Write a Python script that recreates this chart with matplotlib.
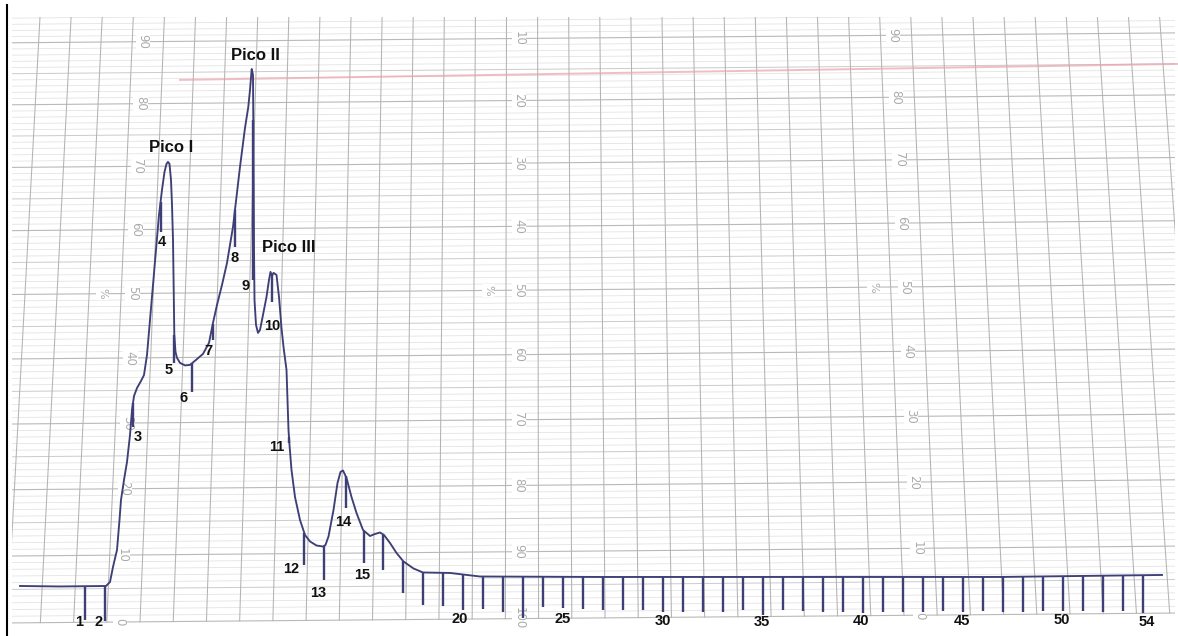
import numpy as np
import matplotlib
matplotlib.use('Agg')
import matplotlib.pyplot as plt
from matplotlib.patches import Rectangle
from matplotlib.lines import Line2D

# recorder trace: position along the chart (fraction tubes) and absorbance (% of scale)
trace_x = [-2.15, -0.15, 2.15, 2.35, 2.50, 2.70, 2.825, 2.90, 3.05, 3.20,
           3.35, 3.45, 3.55, 3.70, 3.90, 4.05, 4.20, 4.35, 4.50, 4.65,
           4.80, 4.95, 5.075, 5.175, 5.25, 5.325, 5.40, 5.45, 5.50, 5.535,
           5.565, 5.625, 5.70, 5.85, 6.10, 6.35, 6.65, 7.00, 7.30, 7.50,
           7.70, 7.95, 8.20, 8.50, 8.85, 9.10, 9.265, 9.35, 9.435, 9.50,
           9.525, 9.55, 9.575, 9.65, 9.75, 9.85, 10.00, 10.175, 10.30, 10.375,
           10.45, 10.525, 10.675, 10.80, 10.925, 11.025, 11.175, 11.225, 11.275, 11.325,
           11.425, 11.60, 11.85, 12.10, 12.35, 12.675, 13.00, 13.125, 13.275, 13.525,
           13.725, 13.875, 14.00, 14.175, 14.425, 14.675, 15.00, 15.35, 15.60, 15.85,
           16.05, 16.35, 16.675, 17.025, 17.525, 18.00, 19.35, 20.85, 26.85, 36.85,
           46.85, 54.95]
trace_y = [5.37, 5.30, 5.37, 5.97, 8.22, 10.77, 15.28, 18.31, 21.34, 24.07,
           28.18, 32.01, 34.15, 35.38, 36.46, 37.38, 40.48, 45.90, 51.35, 56.83,
           62.34, 66.29, 69.14, 70.41, 70.73, 70.41, 67.87, 63.92, 58.40, 50.57,
           43.57, 40.94, 40.02, 39.25, 38.86, 38.94, 39.71, 40.64, 42.34, 45.44,
           48.23, 51.35, 54.79, 60.45, 69.94, 76.15, 79.51, 82.24, 85.62, 84.66,
           72.64, 56.83, 49.01, 45.13, 43.89, 44.35, 46.68, 49.48, 52.13, 53.38,
           52.76, 53.23, 52.91, 49.48, 44.66, 41.72, 38.17, 33.55, 28.95, 26.66,
           22.86, 18.76, 15.28, 13.02, 12.05, 11.44, 11.29, 11.52, 12.80, 16.79,
           20.88, 22.55, 22.78, 21.64, 18.76, 16.34, 13.78, 12.87, 13.17, 13.40,
           13.02, 11.82, 10.32, 9.04, 7.99, 7.39, 7.32, 6.79, 6.72, 6.72,
           6.72, 7.02]

# fraction collector marks: position and lowest point of each pen mark
frac_x = [1.10, 2.10, 3.50, 4.875, 5.565, 6.465, 7.485, 8.60, 9.515, 10.435,
          11.30, 12.065, 13.05, 14.135, 15.065, 16.015, 16.985,
          18, 19, 20, 21, 22, 23, 24, 25, 26, 27, 28, 29, 30, 31, 32, 33, 34, 35, 36,
          37, 38, 39, 40, 41, 42, 43, 44, 45, 46, 47, 48, 49, 50, 51, 52, 53, 54]
frac_low = [0.30, 0.15, 29.40, 59.66, 39.25, 34.76, 42.80, 57.30, 52.13, 48.70,
            26.96, 8.52, 6.27, 17.10, 8.82, 7.77, 4.32,
            2.53, 2.38, 1.79, 1.94, 1.49, 0.60, 2.23, 2.08, 1.94, 1.79, 1.79, 1.79,
            1.49, 1.49, 1.49, 1.49, 1.79, 1.04, 1.79,
            1.6, 1.5, 1.5, 1.3, 1.5, 1.5, 1.5, 1.7, 1.5, 1.7, 1.5, 1.5, 1.7, 1.7,
            1.7, 1.5, 1.7, 1.3]

# hand-written fraction numbers
num_text = ['1', '2', '3', '4', '5', '6', '7', '8', '9', '10', '11', '12', '13',
            '14', '15', '20', '25', '30', '35', '40', '45', '50', '54']
num_x = [0.80, 1.80, 3.75, 4.95, 5.30, 6.05, 7.25, 8.60, 9.15, 10.45, 10.70, 11.40,
         12.75, 14.00, 14.95, 19.85, 25.0, 30.0, 34.95, 39.9, 44.95, 49.95, 54.2]
num_y = [0.0, 0.0, 27.88, 58.09, 38.17, 33.84, 41.07, 55.57, 51.20, 44.97, 26.35,
         7.92, 4.32, 14.98, 7.02, 0.45, 0.45, 0.15, 0.0, 0.15, 0.15, 0.30, 0.0]

peak_text = ['Pico I', 'Pico II', 'Pico III']
peak_x = [5.4, 9.6, 11.27]
peak_y = [72.96, 87.72, 57.14]

# second pen (red) reference line
ref_x = [5.85, 55.75]
ref_y = [83.85, 86.43]

scale_steps = [0, 10, 20, 30, 40, 50, 60, 70, 80, 90]

INK = '#3d3f76'
SCALE_GREY = '#ababab'

# chart paper is photographed slightly in perspective
A, B = 6.72, 0.00307
TILT = 0.17
X_REF = 2.85
TOP_V = 94.05


def chart_fwd(v):
    v = np.asarray(v, dtype=float)
    return A * v - B * v ** 2


def chart_inv(h):
    h = np.asarray(h, dtype=float)
    return (A - np.sqrt(np.maximum(A * A - 4 * B * h, 1e-9))) / (2 * B)


def paper_level(v, x):
    return chart_inv(chart_fwd(v) + TILT * (np.asarray(x, dtype=float) - X_REF))


fig = plt.figure(figsize=(11.78, 6.36), dpi=100)
fig.patch.set_facecolor('white')
ax = fig.add_axes([0, 0, 1, 1])
ax.set_yscale('function', functions=(chart_fwd, chart_inv))
ax.set_xlim(-3.15, 55.75)
ax.set_ylim(-2.08, 96.81)
ax.axis('off')

clip = Rectangle((-2.55, -3), 58.15, TOP_V + 3, transform=ax.transData,
                 facecolor='none', edgecolor='none')
ax.add_patch(clip)

# horizontal rulings, one per percent
xs = np.linspace(-2.55, 55.6, 60)
for v in range(0, 95):
    if v % 10 == 0:
        col, lw = '#b9b9b9', 0.8
    elif v % 5 == 0:
        col, lw = '#cbcbcb', 0.7
    else:
        col, lw = '#e1e1e1', 0.55
    ln, = ax.plot(xs, paper_level(v, xs), color=col, lw=lw, zorder=1)
    ln.set_clip_path(clip)

# vertical rulings, leaning outwards towards the bottom
for k in range(37):
    xt = -1.15 + 1.555 * k
    xb = xt + 0.068 * (xt - 23.0)
    ln, = ax.plot([xb, xt], [paper_level(0, xb), TOP_V], color='#b3b3b3',
                  lw=0.75, zorder=1)
    ln.set_clip_path(clip)

# printed scales of the paper
lbl_box = dict(facecolor='white', edgecolor='none', pad=0.6)
for v in scale_steps:
    xl = 2.85 + 0.0128 * v
    ax.text(xl, paper_level(v, xl), str(v), rotation=-90, color=SCALE_GREY,
            fontsize=8.5, ha='center', va='center', bbox=lbl_box, zorder=2)
    xm = 22.8
    ax.text(xm, paper_level(v, xm), str(100 - v), rotation=-90, color=SCALE_GREY,
            fontsize=8.5, ha='center', va='center', bbox=lbl_box, zorder=2)
    xr = 42.85 - 0.015 * v
    ax.text(xr, paper_level(v, xr), str(v), rotation=-90, color=SCALE_GREY,
            fontsize=8.5, ha='center', va='center', bbox=lbl_box, zorder=2)
for xp in [1.95, 21.25, 40.5]:
    ax.text(xp, paper_level(50, xp), '%', rotation=-90, color=SCALE_GREY,
            fontsize=8, ha='center', va='center', bbox=lbl_box, zorder=2)

ax.plot(ref_x, ref_y, color='#eaa2ad', lw=1.4, alpha=0.7, zorder=2)

# absorbance trace and fraction marks
ax.plot(trace_x, trace_y, color=INK, lw=1.35, zorder=3, solid_joinstyle='round')
frac_top = np.interp(frac_x, trace_x, trace_y)
ax.vlines(frac_x, frac_low, frac_top, color=INK, lw=1.7, zorder=3)

for t, x, y in zip(num_text, num_x, num_y):
    ax.text(x, y, t, fontsize=10.5, fontweight='bold', family='Liberation Sans',
            ha='center', va='center', color='#111111', zorder=4)
for t, x, y in zip(peak_text, peak_x, peak_y):
    ax.text(x, y, t, fontsize=12, fontweight='bold', family='Liberation Sans',
            ha='center', va='center', color='#111111', zorder=4)

fig.add_artist(Line2D([7 / 1178, 7 / 1178], [0, 1 - 5 / 636], color='black', lw=1.5))

fig.savefig('out.png', dpi=100, facecolor='white')
